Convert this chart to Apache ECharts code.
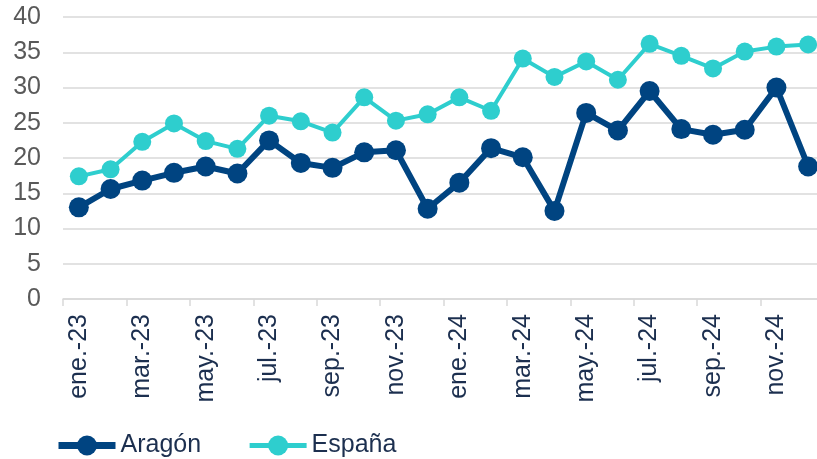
<!DOCTYPE html>
<html>
<head>
<meta charset="utf-8">
<script src="https://cdn.jsdelivr.net/npm/echarts@6/dist/echarts.min.js"></script>
<style>
  html, body { margin: 0; padding: 0; background: #fff; overflow: hidden; }
  #chart { width: 824px; height: 459px; }
</style>
</head>
<body>
<div id="chart"></div>
<script>
var months = ['ene.-23', 'feb.-23', 'mar.-23', 'abr.-23', 'may.-23', 'jun.-23',
  'jul.-23', 'ago.-23', 'sep.-23', 'oct.-23', 'nov.-23', 'dic.-23',
  'ene.-24', 'feb.-24', 'mar.-24', 'abr.-24', 'may.-24', 'jun.-24',
  'jul.-24', 'ago.-24', 'sep.-24', 'oct.-24', 'nov.-24', 'dic.-24'];
var aragon = [13.0, 15.6, 16.8, 17.9, 18.8, 17.8, 22.5, 19.3, 18.6, 20.8, 21.1, 12.8,
  16.5, 21.4, 20.1, 12.5, 26.4, 23.9, 29.5, 24.1, 23.3, 24.0, 30.0, 18.8];
var espana = [17.4, 18.4, 22.3, 24.9, 22.4, 21.3, 26.0, 25.2, 23.6, 28.6, 25.3, 26.2,
  28.6, 26.7, 34.1, 31.5, 33.7, 31.1, 36.2, 34.5, 32.7, 35.1, 35.8, 36.1];
var yTicks = [0, 5, 10, 15, 20, 25, 30, 35, 40];

var navy = '#004481';
var teal = '#2ecece';

var myChart = echarts.init(document.getElementById('chart'));
var option = {
  animation: false,
  textStyle: { fontFamily: 'Liberation Sans, Arial, sans-serif' },
  grid: { left: 63, right: 0, top: 17, bottom: 160 },
  legend: {
    data: [
      { name: 'Aragón', lineStyle: { width: 7 } },
      { name: 'España', lineStyle: { width: 5 } }
    ],
    left: 55,
    top: 433,
    padding: 0,
    itemWidth: 57,
    itemHeight: 25,
    itemGap: 46,
    textStyle: { color: '#1c2f4f', fontSize: 25 }
  },
  xAxis: {
    type: 'category',
    data: months,
    boundaryGap: true,
    axisLine: { lineStyle: { color: '#d9d9d9', width: 1.5 } },
    axisTick: { show: true, interval: 1, length: 7, lineStyle: { color: '#d9d9d9', width: 1.5 } },
    axisLabel: { interval: 1, rotate: 90, color: '#1c2f4f', fontSize: 25, margin: 15 }
  },
  yAxis: {
    type: 'value',
    min: yTicks[0],
    max: yTicks[yTicks.length - 1],
    interval: 5,
    axisLine: { show: false },
    axisTick: { show: false },
    splitLine: { lineStyle: { color: '#d9d9d9', width: 1.5 } },
    axisLabel: { color: '#595959', fontSize: 25, margin: 22 }
  },
  series: [{
    name: 'Aragón',
    type: 'line',
    data: aragon,
    symbol: 'circle',
    symbolSize: 20,
    lineStyle: { color: navy, width: 6 },
    itemStyle: { color: navy }
  }, {
    name: 'España',
    type: 'line',
    data: espana,
    symbol: 'circle',
    symbolSize: 18,
    lineStyle: { color: teal, width: 4 },
    itemStyle: { color: teal }
  }]
};
myChart.setOption(option);
window.addEventListener('resize', function () { myChart.resize(); });
</script>
</body>
</html>
